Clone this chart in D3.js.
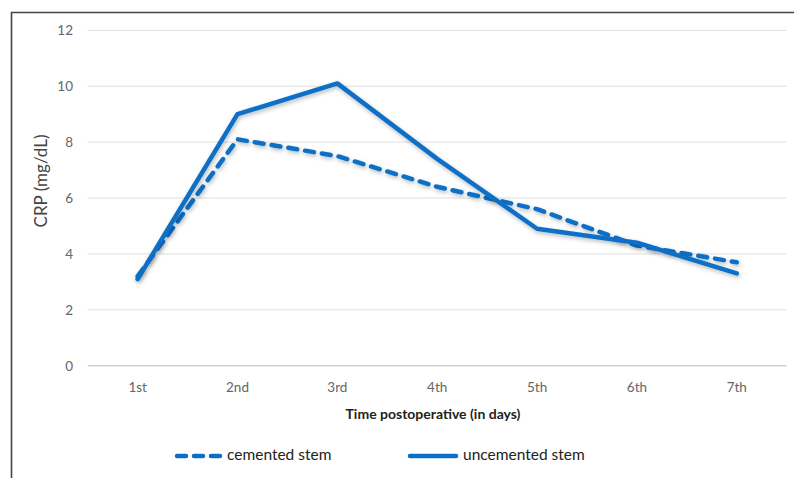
<!DOCTYPE html>
<html>
<head>
<meta charset="utf-8">
<script src="https://cdn.jsdelivr.net/npm/d3@7"></script>
<style>
html,body{margin:0;padding:0;background:#fff;}
svg{display:block;font-family:Lato,"Open Sans",sans-serif;}
</style>
</head>
<body>
<svg id="chart" width="794" height="478"></svg>
<script>
const categories = ["1st","2nd","3rd","4th","5th","6th","7th"];
const cemented = [3.2, 8.1, 7.5, 6.4, 5.6, 4.3, 3.7];
const uncemented = [3.1, 9.0, 10.1, 7.4, 4.9, 4.4, 3.3];
const yTicks = [0, 2, 4, 6, 8, 10, 12];
const seriesNames = ["cemented stem", "uncemented stem"];

const W = 794, H = 478;
const svg = d3.select("#chart");
const blue = "#0a6fc6";

const defs = svg.append("defs");
const f = defs.append("filter").attr("id","shadow").attr("x","-10%").attr("y","-10%").attr("width","120%").attr("height","130%");
f.append("feDropShadow").attr("dx",1).attr("dy",2).attr("stdDeviation",2).attr("flood-color","#000").attr("flood-opacity",0.28);

// frame
svg.append("path").attr("d", `M11.5,${H} L11.5,12.5 L${W},12.5`)
  .attr("fill","none").attr("stroke","#444").attr("stroke-width",1.6);

const x = d3.scaleBand().domain(categories).range([87.7, 786.7]);
const y = d3.scaleLinear().domain([0,12]).range([365.7, 30.3]);

// gridlines
svg.append("g").selectAll("line").data(yTicks).join("line")
  .attr("x1", 87.7).attr("x2", 786.7)
  .attr("y1", d => y(d)).attr("y2", d => y(d))
  .attr("stroke", d => d === 0 ? "#d0d0d0" : "#dedede")
  .attr("stroke-width", d => d === 0 ? 1.6 : 1);

// y axis labels
const yAxis = d3.axisLeft(y).tickValues(yTicks).tickSize(0).tickPadding(0).tickFormat(d3.format("d"));
const gy = svg.append("g").attr("transform","translate(73,0)").call(yAxis);
gy.select(".domain").remove();
gy.selectAll("text").attr("fill","#666").attr("font-size",13.5).attr("font-family","Lato,sans-serif");

// x axis labels
const xAxis = d3.axisBottom(x).tickSize(0).tickPadding(0);
const gx = svg.append("g").attr("transform","translate(0,382)").call(xAxis);
gx.select(".domain").remove();
gx.selectAll("text").attr("fill","#666").attr("font-size",13.5).attr("font-family","Lato,sans-serif");

// axis titles
svg.append("text").attr("x", 433).attr("y", 419).attr("text-anchor","middle")
  .attr("font-size",14).attr("font-weight","bold").attr("fill","#222")
  .text("Time postoperative (in days)");
svg.append("text").attr("transform","translate(47,181) rotate(-90)").attr("text-anchor","middle")
  .attr("font-size",17).attr("fill","#444").text("CRP (mg/dL)");

const line = d3.line().x((d,i) => x(categories[i]) + x.bandwidth()/2).y(d => y(d));

svg.append("path").datum(cemented).attr("d", line)
  .attr("fill","none").attr("stroke", blue).attr("stroke-width",4.5)
  .attr("stroke-dasharray","9,8").attr("stroke-linecap","round").attr("stroke-linejoin","round")
  .attr("filter","url(#shadow)");
svg.append("path").datum(uncemented).attr("d", line)
  .attr("fill","none").attr("stroke", blue).attr("stroke-width",4.5)
  .attr("stroke-linecap","round").attr("stroke-linejoin","round")
  .attr("filter","url(#shadow)");

// legend
const leg = svg.append("g");
leg.append("line").attr("x1",177).attr("x2",222).attr("y1",456).attr("y2",456)
  .attr("stroke",blue).attr("stroke-width",4.5).attr("stroke-dasharray","9,8").attr("stroke-linecap","round");
leg.append("text").attr("x",227).attr("y",460).attr("font-size",15.5).attr("fill","#222").text(seriesNames[0]);
leg.append("line").attr("x1",410).attr("x2",456).attr("y1",456).attr("y2",456)
  .attr("stroke",blue).attr("stroke-width",4.5).attr("stroke-linecap","round");
leg.append("text").attr("x",463).attr("y",460).attr("font-size",15.5).attr("fill","#222").text(seriesNames[1]);
</script>
</body>
</html>
